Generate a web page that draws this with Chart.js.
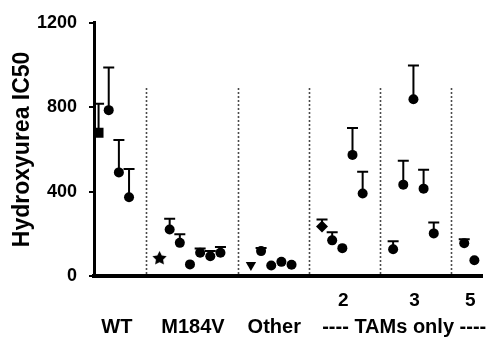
<!DOCTYPE html>
<html lang="en">
<head>
<meta charset="UTF-8">
<title>Hydroxyurea IC50</title>
<script src="https://cdn.jsdelivr.net/npm/chart.js"></script>
<style>
    html, body { margin: 0; padding: 0; background: #fff; }
    #wrap { width: 493px; height: 337px; }
</style>
</head>
<body>
<div id="wrap"><canvas id="ic50Chart" width="493" height="337"></canvas></div>

<script>
    // groups shown along the bottom
    const groupLabels = ['WT', 'M184V', 'Other', '2', '3', '5'];
    const tamsLabel = '---- TAMs only ----';
    const yTicks = [0, 400, 800, 1200];

    // IC50 per isolate and the upper error (+SD)
    const wtIC50 = [679, 786, 491, 373];
    const wtErr = [137, 202, 154, 134];
    const m184vIC50 = [88, 220, 157, 55, 110, 94, 110];
    const m184vErr = [0, 51, 41, 0, 20, 25, 28];
    const otherIC50 = [52, 118, 50, 67, 53];
    const otherErr = [0, 15, 0, 0, 0];
    const tams2IC50 = [235, 169, 132, 574, 391];
    const tams2Err = [33, 38, 0, 127, 103];
    const tams3IC50 = [127, 433, 838, 414, 202];
    const tams3Err = [38, 113, 160, 90, 52];
    const tams5IC50 = [155, 75];
    const tams5Err = [19, 0];
    const dividerTop = 890;

    const allValues = [wtIC50, m184vIC50, otherIC50, tams2IC50, tams3IC50, tams5IC50];
    const allErrors = [wtErr, m184vErr, otherErr, tams2Err, tams3Err, tams5Err];

    // filled star for the M184V reference strain
    function makeStar(size) {
        const c = document.createElement('canvas');
        c.width = size; c.height = size;
        const g = c.getContext('2d');
        const cx = size / 2, cy = size / 2 + 1, ro = size / 2, ri = ro * 0.5;
        g.beginPath();
        for (let i = 0; i < 10; i++) {
            const r = i % 2 ? ri : ro;
            const a = -Math.PI / 2 + i * Math.PI / 5;
            g.lineTo(cx + r * Math.cos(a), cy + r * Math.sin(a));
        }
        g.closePath();
        g.fillStyle = '#000';
        g.fill();
        return c;
    }
    const star = makeStar(15);

    // first isolate of each group has its own marker
    const firstStyles = ['rect', star, 'triangle', 'rectRot', 'circle', 'circle'];
    const firstRotation = [0, 0, 180, 0, 0, 0];
    const firstRadius = [7, 6, 6, 6, 5, 5];

    // x positions: one slot per isolate, gap between groups
    let pos = 0.45;
    const groupX = [];
    const datasets = [];
    allValues.forEach((vals, gi) => {
        const xs = vals.map(() => pos++);
        groupX.push(xs);
        pos += 2;
        datasets.push({
            label: groupLabels[gi],
            data: vals.map((v, i) => ({ x: xs[i], y: v, err: allErrors[gi][i] })),
            pointStyle: vals.map((v, i) => i === 0 ? firstStyles[gi] : 'circle'),
            rotation: vals.map((v, i) => i === 0 ? firstRotation[gi] : 0),
            pointRadius: vals.map((v, i) => i === 0 ? firstRadius[gi] : 5),
            backgroundColor: '#000',
            borderColor: '#000',
            borderWidth: 0,
            showLine: false
        });
    });
    const dividers = [];
    for (let i = 0; i < groupX.length - 1; i++) {
        const a = groupX[i][groupX[i].length - 1], b = groupX[i + 1][0];
        dividers.push((a + b) / 2 + 0.2);
    }

    const extras = {
        id: 'extras',
        beforeDatasetsDraw(chart) {
            const { ctx, scales: { x, y } } = chart;
            ctx.save();
            // dotted separators
            ctx.strokeStyle = '#111';
            ctx.lineWidth = 1.6;
            ctx.setLineDash([1.6, 2.4]);
            dividers.forEach(d => {
                const px = Math.round(x.getPixelForValue(d)) + 0.5;
                ctx.beginPath();
                ctx.moveTo(px, y.getPixelForValue(dividerTop));
                ctx.lineTo(px, y.getPixelForValue(0));
                ctx.stroke();
            });
            ctx.setLineDash([]);
            // upper error bars
            ctx.strokeStyle = '#000';
            ctx.lineWidth = 2;
            chart.data.datasets.forEach(ds => {
                ds.data.forEach(p => {
                    if (!p.err) return;
                    const px = x.getPixelForValue(p.x);
                    const y0 = y.getPixelForValue(p.y);
                    const y1 = y.getPixelForValue(p.y + p.err);
                    ctx.beginPath();
                    ctx.moveTo(px, y0);
                    ctx.lineTo(px, y1);
                    ctx.moveTo(px - 5.5, y1);
                    ctx.lineTo(px + 5.5, y1);
                    ctx.stroke();
                });
            });
            ctx.restore();
        },
        afterDraw(chart) {
            const { ctx, scales: { x } } = chart;
            ctx.save();
            ctx.fillStyle = '#000';
            ctx.textAlign = 'center';
            ctx.textBaseline = 'alphabetic';
            const center = gi => {
                const xs = groupX[gi];
                return x.getPixelForValue((xs[0] + xs[xs.length - 1]) / 2);
            };
            ctx.font = 'bold 20px Arial, "Liberation Sans", sans-serif';
            for (let gi = 0; gi < 3; gi++) {
                ctx.fillText(groupLabels[gi], center(gi) + 3, 333);
            }
            const tStart = x.getPixelForValue(groupX[3][0]);
            const tEnd = x.getPixelForValue(groupX[5][groupX[5].length - 1]);
            ctx.fillText(tamsLabel, (tStart + tEnd) / 2 + 6, 333);
            ctx.font = 'bold 19px Arial, "Liberation Sans", sans-serif';
            for (let gi = 3; gi < 6; gi++) {
                ctx.fillText(groupLabels[gi], center(gi) + 1, 306);
            }
            ctx.restore();
        }
    };

    new Chart(document.getElementById('ic50Chart'), {
        type: 'scatter',
        data: { datasets: datasets },
        options: {
            responsive: false,
            animation: false,
            events: [],
            layout: { padding: { top: 21, right: 11, left: 0, bottom: 0 } },
            plugins: { legend: { display: false }, tooltip: { enabled: false } },
            scales: {
                x: {
                    type: 'linear',
                    min: 0,
                    max: 38.2,
                    ticks: { display: false },
                    grid: { display: false, drawTicks: false },
                    border: { display: true, color: '#000', width: 4 },
                    afterFit(scale) { scale.height = 61; }
                },
                y: {
                    min: 0,
                    max: 1200,
                    afterBuildTicks(scale) { scale.ticks = yTicks.map(v => ({ value: v })); },
                    ticks: {
                        color: '#000',
                        padding: 12,
                        callback: v => String(v),
                        font: { family: 'Arial, "Liberation Sans", sans-serif', size: 18, weight: 'bold' }
                    },
                    grid: { drawOnChartArea: false, tickLength: 5, color: '#000', lineWidth: 2 },
                    border: { display: true, color: '#000', width: 3 },
                    title: {
                        display: true,
                        text: 'Hydroxyurea IC50',
                        color: '#000',
                        padding: { top: 9, bottom: 0 },
                        font: { family: 'Arial, "Liberation Sans", sans-serif', size: 23, weight: 'bold' }
                    },
                    afterFit(scale) { scale.width = 94; }
                }
            }
        },
        plugins: [extras]
    });
</script>
</body>
</html>
